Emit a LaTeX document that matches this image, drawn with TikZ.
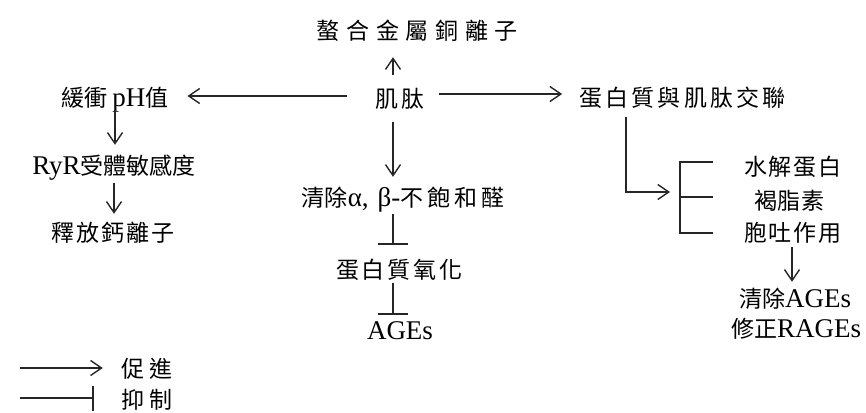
\documentclass[tikz,border=0pt]{standalone}
\usepackage{fontspec}
\setmainfont{Liberation Serif}
\newfontfamily\cjkf{Noto Sans CJK TC}
\newfontfamily\latf{Liberation Serif}
\usetikzlibrary{arrows.meta}
\newcommand\Lt[1]{{\latf\fontsize{27}{27}\selectfont #1}}
\newcommand\Cs[2]{{\addfontfeature{LetterSpace=#1}#2\kern-\dimexpr #1pt*23/100\relax}}
\begin{document}
\begin{tikzpicture}[x=1pt,y=-1pt,
  tx/.style={font=\cjkf\fontsize{23}{23}\selectfont, inner sep=0pt, text height=17pt, text depth=0pt},
  ln/.style={line width=1.4pt, draw=black!85},
  pro/.style={ln, -{Straight Barb[length=11pt,width=15pt,line width=1.4pt]}},
  inh/.style={ln, -{Bar[width=30pt,line width=1.6pt]}}]
\useasboundingbox (0,0) rectangle (866,412);

\node[tx] (chel) at (414,31) {\Cs{29}{螯合金屬銅離子}};
\node[tx] (carn) at (398,99) {\Cs{17}{肌肽}};
\node[tx] (buf) at (115,98) {緩衝\Lt{\,pH}值};
\node[tx] (ryr) at (114,166) {\Lt{RyR}受體敏感度};
\node[tx] (rel) at (112,233) {\Cs{8}{釋放鈣離子}};
\node[tx] (clr) at (401,198) {清除\Lt{α,\,\,β-}\Cs{17}{不飽和醛}};
\node[tx] (pox) at (398,270) {\Cs{13}{蛋白質氧化}};
\node[tx] (ages) at (400,331) {\Lt{AGEs}};
\node[tx] (cross) at (681,98) {\Cs{14}{蛋白質與肌肽交聯}};
\node[tx] (hyd) at (792,167) {\Cs{7}{水解蛋白}};
\node[tx] (lip) at (789,201) {\Cs{3}{褐脂素}};
\node[tx] (exo) at (792,233) {\Cs{7}{胞吐作用}};
\node[tx] (cage) at (795,299) {清除\Lt{AGEs}};
\node[tx] (rage) at (796,329) {修正\Lt{RAGEs}};
\node[tx] (lp) at (144,369) {\Cs{26}{促進}};
\node[tx] (li) at (144,400) {\Cs{26}{抑制}};

\coordinate (elb) at (670,192);
\coordinate (bT) at (680,162);
\coordinate (bM) at (680,197);
\coordinate (bB) at (680,233);
\coordinate (tT) at (713,162);
\coordinate (tM) at (713,197);
\coordinate (tB) at (713,233);
\coordinate (lpa) at (20,368);
\coordinate (lia) at (20,398);

\draw[pro, shorten <=15.5pt, shorten >=17.5pt] ([xshift=-5pt]carn.north) -- ([xshift=-5pt]carn.north |- chel.south);
\draw[pro, shorten <=28pt, shorten >=19pt] ([yshift=3pt]carn.west) -- ([yshift=3pt]carn.west -| buf.east);
\draw[pro, shorten <=18pt, shorten >=17pt] ([yshift=5pt]carn.east) -- ([yshift=5pt]carn.east -| cross.west);
\draw[pro, shorten <=14.5pt, shorten >=12.5pt] ([xshift=-5pt]carn.south) -- ([xshift=-5pt]carn.south |- clr.north);
\draw[pro, shorten <=3.5pt, shorten >=12.5pt] (buf.south) -- (buf.south |- ryr.north);
\draw[pro, shorten <=8.5pt, shorten >=10.5pt] (ryr.south) -- (ryr.south |- rel.north);
\draw[inh, shorten <=7.5pt, shorten >=16.5pt] ([xshift=-8pt]clr.south) -- ([xshift=-8pt]clr.south |- pox.north);
\draw[inh, shorten <=4.5pt, shorten >=7.5pt] ([xshift=-5pt]pox.south) -- ([xshift=-5pt]pox.south |- ages.north);
\draw[pro, shorten <=10.5pt] ([xshift=-55pt]cross.south) |- (elb);
\draw[ln] (tT) -- (bT) -- (bB) -- (tB);
\draw[ln] (bM) -- (tM);
\draw[pro, shorten <=5.5pt, shorten >=8.5pt] (exo.south) -- (exo.south |- cage.north);
\draw[pro, shorten >=18pt] (lpa) -- (lpa -| lp.west);
\draw[ln, -{Bar[width=25pt,line width=1.6pt]}, shorten >=27pt] (lia) -- (lia -| li.west);
\end{tikzpicture}
\end{document}
